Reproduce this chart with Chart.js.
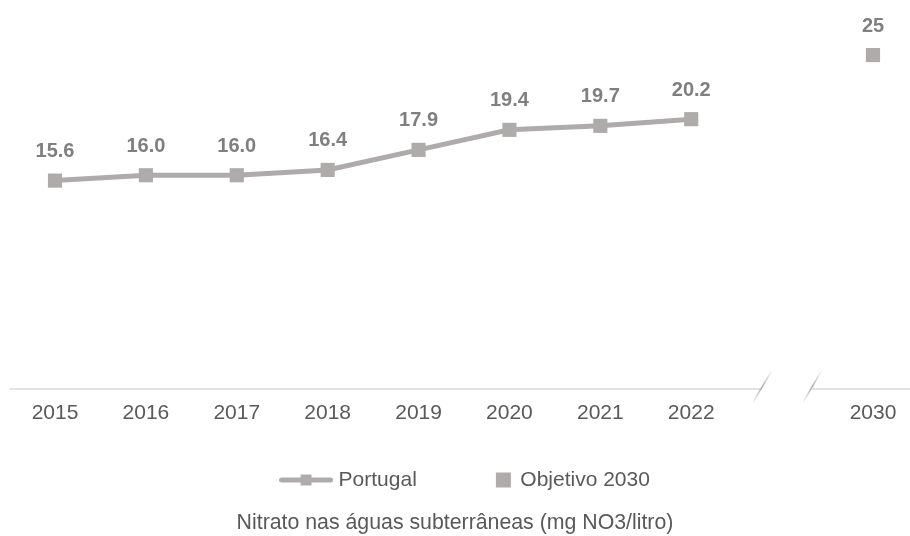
<!DOCTYPE html>
<html lang="pt">
<head>
<meta charset="utf-8">
<title>Nitrato nas águas subterrâneas</title>
<script src="https://cdn.jsdelivr.net/npm/chart.js@4.4.1/dist/chart.umd.min.js"></script>
<style>
  html, body { margin: 0; padding: 0; background: #fff; }
  #wrap { width: 910px; height: 536px; }
</style>
</head>
<body>
<div id="wrap"><canvas id="myChart" width="910" height="536"></canvas></div>
<script>
// Datos
const years = ['2015', '2016', '2017', '2018', '2019', '2020', '2021', '2022', '', '2030'];
const portugal = [15.6, 16.0, 16.0, 16.4, 17.9, 19.4, 19.7, 20.2, null, null];
const objetivo = [null, null, null, null, null, null, null, null, null, 25];
const seriesNames = ['Portugal', 'Objetivo 2030'];
const chartTitle = 'Nitrato nas águas subterrâneas (mg NO3/litro)';

const grey = '#AFABAB';
const textColor = '#595959';
const labelColor = '#7F7F7F';
const FONT = "'Liberation Sans', Arial, sans-serif";

// Iconos de la leyenda (línea con marcador y cuadrado)
function legendLine() {
    const c = document.createElement('canvas');
    c.width = 54; c.height = 14;
    const g = c.getContext('2d');
    g.strokeStyle = grey;
    g.lineWidth = 5;
    g.lineCap = 'round';
    g.beginPath();
    g.moveTo(2.5, 7);
    g.lineTo(51.5, 7);
    g.stroke();
    g.fillStyle = grey;
    g.fillRect(21.5, 1.5, 11, 11);
    return c;
}
function legendSquare() {
    const c = document.createElement('canvas');
    c.width = 54; c.height = 16;
    const g = c.getContext('2d');
    g.fillStyle = grey;
    g.fillRect(35, 0.5, 15, 15);
    return c;
}
const iconPortugal = legendLine();
const iconObjetivo = legendSquare();

// Título centrado en todo el lienzo, leyenda un poco a la derecha
const blockShift = {
    id: 'blockShift',
    afterLayout(chart) {
        chart.titleBlock.left = 0;
        chart.titleBlock.right = chart.width;
        chart.titleBlock.width = chart.width;
        chart.legend.left += 3;
        chart.legend.right += 3;
    }
};

// Eje X con corte entre 2022 y 2030
const axisBreak = {
    id: 'axisBreak',
    beforeDatasetsDraw(chart) {
        const ctx = chart.ctx;
        const x = chart.scales.x;
        const y0 = chart.scales.y.getPixelForValue(0);
        const gapX = x.getPixelForValue(8);
        const cut1 = gapX - 20;
        const cut2 = gapX + 30;
        ctx.save();
        ctx.strokeStyle = '#D9D9D9';
        ctx.lineWidth = 1.5;
        ctx.beginPath();
        ctx.moveTo(10, y0);
        ctx.lineTo(cut1, y0);
        ctx.moveTo(cut2, y0);
        ctx.lineTo(chart.width, y0);
        ctx.stroke();
        [cut1, cut2].forEach(cx => {
            const grad = ctx.createLinearGradient(cx - 10, y0 + 15, cx + 10, y0 - 19);
            grad.addColorStop(0, 'rgba(170,170,170,0)');
            grad.addColorStop(0.5, 'rgba(170,170,170,1)');
            grad.addColorStop(1, 'rgba(170,170,170,0)');
            ctx.strokeStyle = grad;
            ctx.lineWidth = 1.5;
            ctx.beginPath();
            ctx.moveTo(cx - 10, y0 + 15);
            ctx.lineTo(cx + 10, y0 - 19);
            ctx.stroke();
        });
        ctx.restore();
    }
};

// Etiquetas de valor encima de cada punto
const valueLabels = {
    id: 'valueLabels',
    afterDatasetsDraw(chart) {
        const ctx = chart.ctx;
        ctx.save();
        ctx.font = 'bold 20px ' + FONT;
        ctx.fillStyle = labelColor;
        ctx.textAlign = 'center';
        ctx.textBaseline = 'middle';
        chart.data.datasets.forEach((ds, i) => {
            const meta = chart.getDatasetMeta(i);
            meta.data.forEach((pt, j) => {
                const v = ds.data[j];
                if (v === null) return;
                const txt = i === 0 ? v.toFixed(1) : String(v);
                ctx.fillText(txt, pt.x, pt.y - 29);
            });
        });
        ctx.restore();
    }
};

const ctx = document.getElementById('myChart').getContext('2d');
const myChart = new Chart(ctx, {
    type: 'line',
    data: {
        labels: years,
        datasets: [{
            label: seriesNames[0],
            data: portugal,
            borderColor: grey,
            backgroundColor: grey,
            borderWidth: 5,
            pointStyle: 'rect',
            pointRadius: 10,
            pointBorderWidth: 0,
            pointBackgroundColor: grey,
            tension: 0,
            spanGaps: false
        }, {
            label: seriesNames[1],
            data: objetivo,
            showLine: false,
            borderColor: grey,
            backgroundColor: grey,
            pointStyle: 'rect',
            pointRadius: 10,
            pointBorderWidth: 0,
            pointBackgroundColor: grey
        }]
    },
    options: {
        responsive: false,
        animation: false,
        layout: { padding: { left: 55, right: 37, top: 15, bottom: 0 } },
        scales: {
            x: {
                offset: false,
                grid: { display: false, drawTicks: false },
                border: { display: false },
                ticks: {
                    color: textColor,
                    font: { family: FONT, size: 21 },
                    padding: 12,
                    maxRotation: 0,
                    autoSkip: false
                },
                afterFit(scale) { scale.height = 31.5; }
            },
            y: {
                display: false,
                min: 0,
                max: 28
            }
        },
        plugins: {
            tooltip: { enabled: false },
            legend: {
                position: 'bottom',
                labels: {
                    usePointStyle: true,
                    pointStyleWidth: 44,
                    padding: 49,
                    color: textColor,
                    font: { family: FONT, size: 21 },
                    generateLabels: () => [
                        { text: seriesNames[0], pointStyle: iconPortugal, fillStyle: grey, strokeStyle: grey, lineWidth: 0, hidden: false, datasetIndex: 0, fontColor: textColor },
                        { text: seriesNames[1], pointStyle: iconObjetivo, fillStyle: grey, strokeStyle: grey, lineWidth: 0, hidden: false, datasetIndex: 1, fontColor: textColor }
                    ]
                }
            },
            title: {
                display: true,
                position: 'bottom',
                text: chartTitle,
                color: textColor,
                font: { family: FONT, size: 21.3, weight: 'normal' },
                padding: { top: 10, bottom: 0 }
            }
        }
    },
    plugins: [blockShift, axisBreak, valueLabels]
});
</script>
</body>
</html>
